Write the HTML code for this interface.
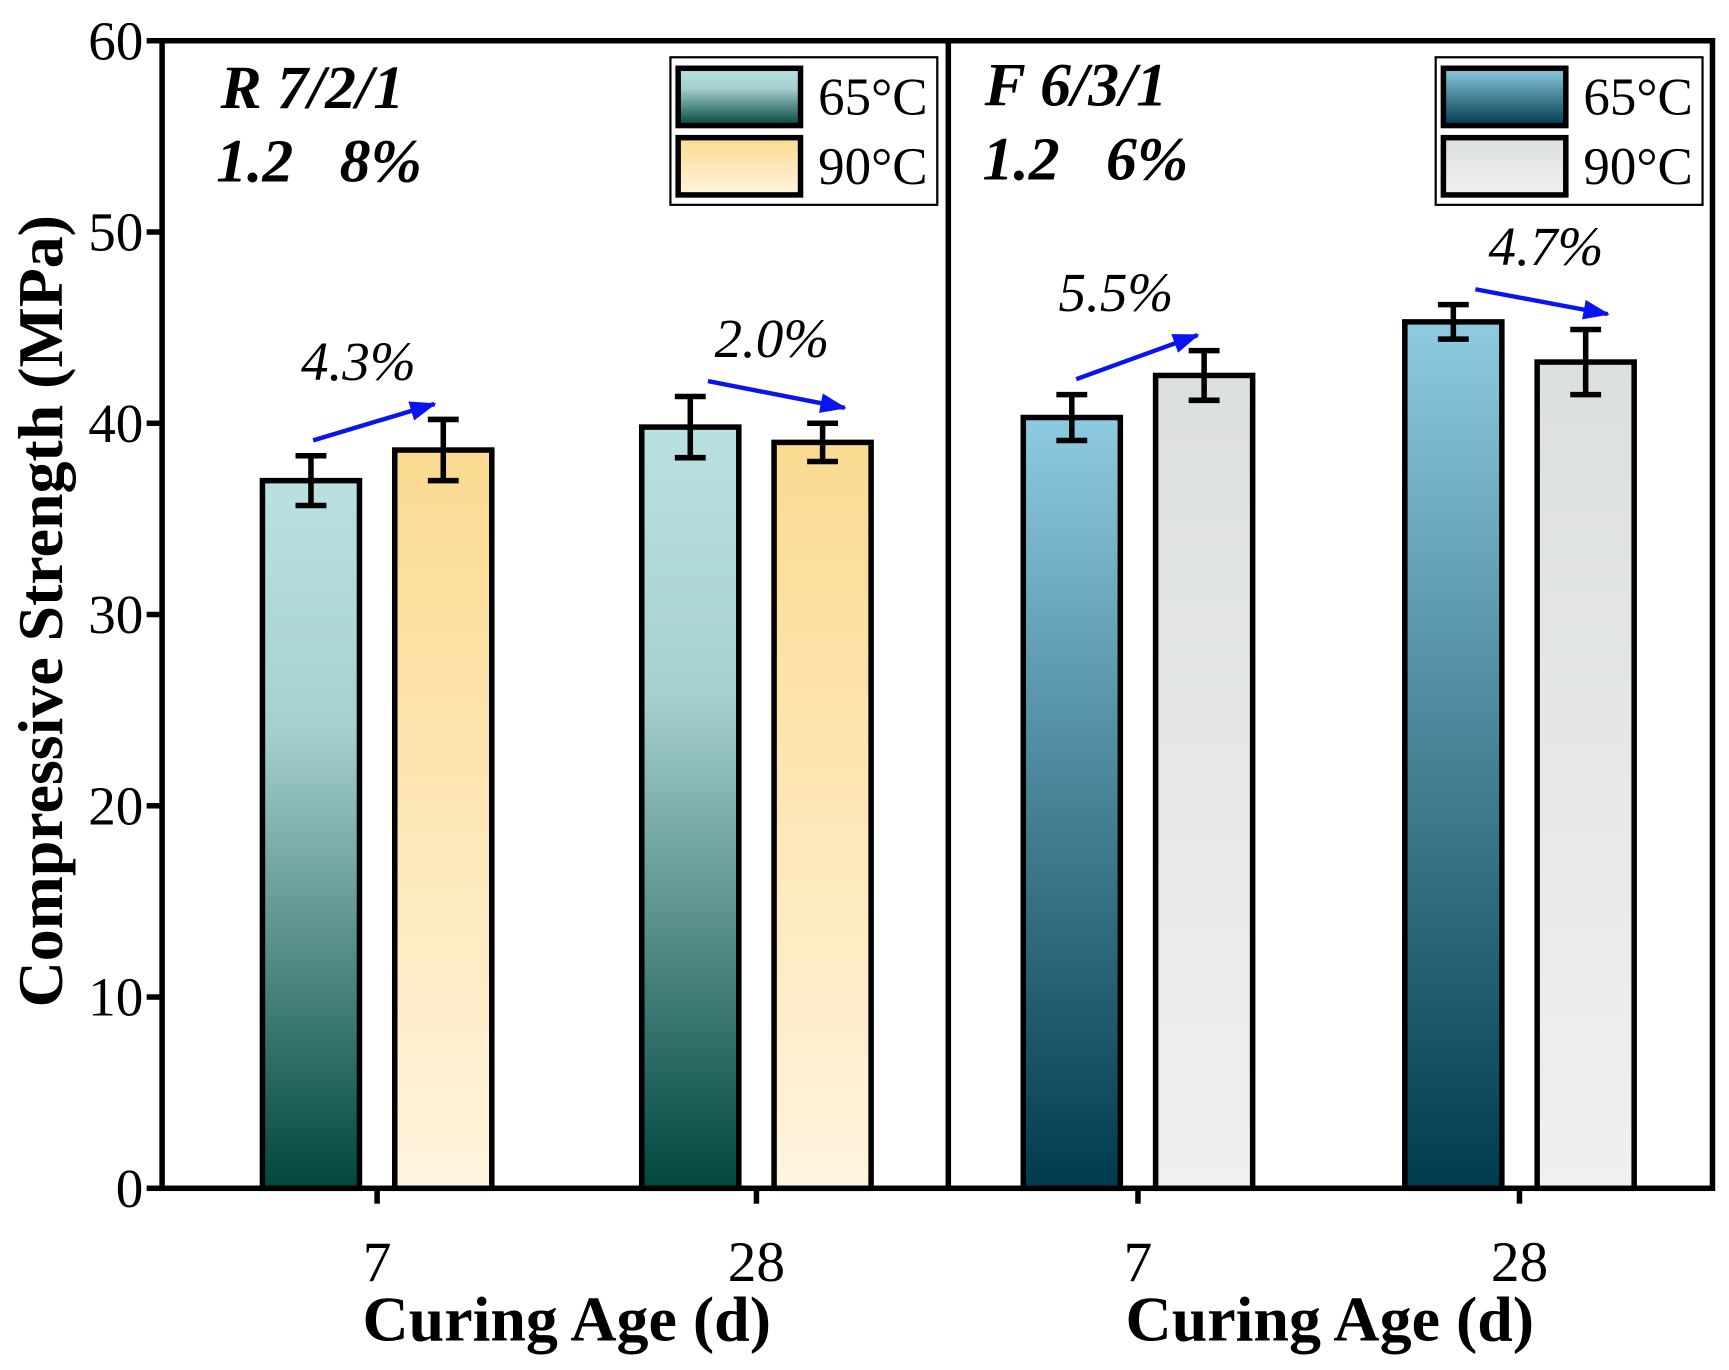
<!DOCTYPE html>
<html><head><meta charset="utf-8"><style>
html,body{margin:0;padding:0;background:#fff;}
svg{display:block;font-family:"Liberation Serif",serif;}
</style></head><body>
<svg id="chart" width="1729" height="1370" viewBox="0 0 1568 1244" preserveAspectRatio="none" xmlns="http://www.w3.org/2000/svg">
<defs>
<linearGradient id="gR65" x1="0" y1="0" x2="0" y2="1"><stop offset="0" stop-color="#b9e1e1"/><stop offset="0.35" stop-color="#a6d0cf"/><stop offset="1" stop-color="#00463f"/></linearGradient>
<linearGradient id="gR90" x1="0" y1="0" x2="0" y2="1"><stop offset="0" stop-color="#fbda90"/><stop offset="1" stop-color="#fff4de"/></linearGradient>
<linearGradient id="gF65" x1="0" y1="0" x2="0" y2="1"><stop offset="0" stop-color="#8ecbe1"/><stop offset="1" stop-color="#003a4e"/></linearGradient>
<linearGradient id="gF90" x1="0" y1="0" x2="0" y2="1"><stop offset="0" stop-color="#dcdfe0"/><stop offset="1" stop-color="#eff0f1"/></linearGradient>
<marker id="arr" markerWidth="24" markerHeight="18" refX="22" refY="9" orient="auto" markerUnits="userSpaceOnUse" viewBox="0 0 24 18"><path d="M0,0 L24,9 L0,18 z" fill="#0a14f0"/></marker>
</defs>
<g id="plot"></g>
</svg>
<script>
const groups = ["7","28","7","28"];
const series65 = [37.0, 39.8, 40.3, 45.3];
const series90 = [38.6, 39.0, 42.5, 43.2];
const err65 = [1.3, 1.6, 1.2, 0.9];
const err90 = [1.6, 1.0, 1.3, 1.7];
const pctLabels = ["4.3%","2.0%","5.5%","4.7%"];
const yTicks = [0,10,20,30,40,50,60];

const NS="http://www.w3.org/2000/svg";
const g=document.getElementById('plot');
const x0=147,xEnd=1553,yTop=37,yBot=1079,ymax=60;
const y=v=>yBot-(v/ymax)*(yBot-yTop);
const groupX=i=>[342,686,1032,1378][i];
const labelDx=[-17,14,-20,24];
const arrowStartDx=[2,16,4,20], arrowEndDx=[-8,20,-6,20];
const bw=88, off=60;
function el(tag,attrs,text){const e=document.createElementNS(NS,tag);for(const k in attrs)e.setAttribute(k,attrs[k]);if(text!==undefined)e.textContent=text;g.appendChild(e);return e;}

let e;
e=el('rect',{x:x0,y:yTop,width:xEnd-x0,height:yBot-yTop,fill:'none',stroke:'#000','stroke-width':5});


e=el('line',{x1:860,y1:yTop,x2:860,y2:yBot,stroke:'#000','stroke-width':5});



yTicks.forEach(t=>{
  const ty=y(t);
  e=el('line',{x1:x0-14,y1:ty,x2:x0,y2:ty,stroke:'#000','stroke-width':5});
  
  
  e=el('text',{x:x0-17,y:ty+17,'text-anchor':'end','font-size':50},String(t));
  
  
});

groups.forEach((c,i)=>{
  const cx=groupX(i);
  const right=i>=2;
  const defs=[[series65[i],err65[i],right?'url(#gF65)':'url(#gR65)',cx-off,'bar-65c'],[series90[i],err90[i],right?'url(#gF90)':'url(#gR90)',cx+off,'bar-90c']];
  defs.forEach(d=>{
    const [v,er,fill,bx,nm]=d;
    e=el('rect',{x:bx-bw/2,y:y(v),width:bw,height:yBot-y(v),fill:fill,stroke:'#000','stroke-width':5});
    
    
    e=el('path',{d:`M${bx},${y(v+er)}V${y(v-er)}M${bx-14},${y(v+er)}H${bx+14}M${bx-14},${y(v-er)}H${bx+14}`,stroke:'#000','stroke-width':5,fill:'none'});
    
    
  });
  const a1=cx-off+arrowStartDx[i], a2=cx+off+arrowEndDx[i];
  const ys=y(series65[i]+err65[i])-14, ye=y(series90[i]+err90[i])-14;
  e=el('line',{x1:a1,y1:ys,x2:a2,y2:ye,stroke:'#0a14f0','stroke-width':4,'marker-end':'url(#arr)'});
  
  
  e=el('text',{x:cx+labelDx[i],y:Math.min(ys,ye)-22,'text-anchor':'middle','font-size':50,'font-style':'italic'},pctLabels[i]);
  
  
  e=el('line',{x1:cx,y1:yBot,x2:cx,y2:yBot+14,stroke:'#000','stroke-width':5});
  
  
  e=el('text',{x:cx,y:1163,'text-anchor':'middle','font-size':52},c);
  
  
});

[[514,'x-axis-title-left'],[1206,'x-axis-title-right']].forEach(p=>{
  e=el('text',{x:p[0],y:1217,'text-anchor':'middle','font-size':58,'font-weight':'bold'},'Curing Age (d)');
  
  
});
e=el('text',{x:0,y:0,'text-anchor':'middle','font-size':58,'font-weight':'bold',transform:'translate(56,555) rotate(-90)'},'Compressive Strength (MPa)');



[[200,98,'R 7/2/1'],[196,165,'1.2\u00a0\u00a0 8%'],[893,96,'F 6/3/1'],[891,163,'1.2\u00a0\u00a0 6%']].forEach(p=>{
  e=el('text',{x:p[0],y:p[1],'font-size':56,'font-weight':'bold','font-style':'italic'},p[2]);
  
  
});

[[608,'url(#gR65)','url(#gR90)'],[1302,'url(#gF65)','url(#gF90)']].forEach(p=>{
  const lx=p[0];
  e=el('rect',{x:lx,y:52,width:242,height:134,fill:'#fff',stroke:'#000','stroke-width':2});
  
  
  [[p[1],62,'65°C'],[p[2],125,'90°C']].forEach(q=>{
    e=el('rect',{x:lx+7,y:q[1],width:111,height:52,fill:q[0],stroke:'#000','stroke-width':5});
    
    
    e=el('text',{x:lx+134,y:q[1]+42,'font-size':48},q[2]);
    
    
  });
});
</script>
</body></html>
